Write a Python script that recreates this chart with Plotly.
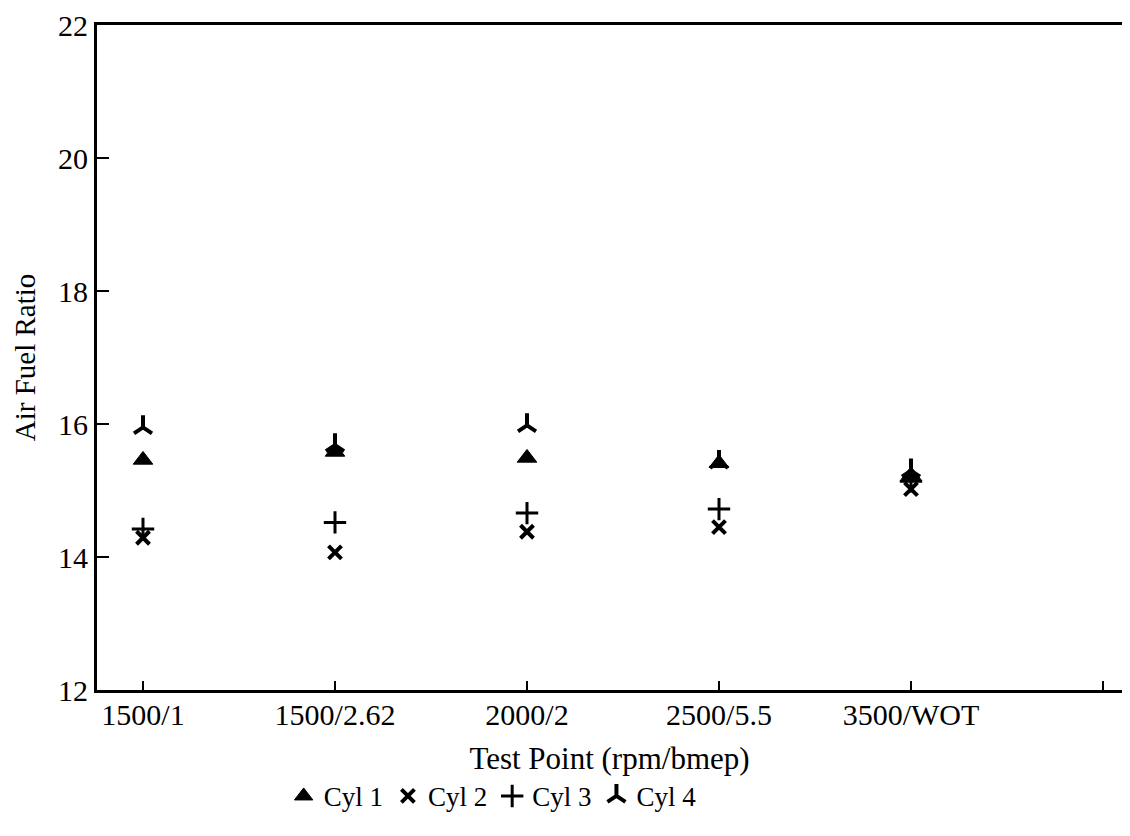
import plotly.graph_objects as go

categories = ["1500/1", "1500/2.62", "2000/2", "2500/5.5", "3500/WOT"]
tick_labels = ["1500/1", "1500/2.62", "2000/2", "2500/5.5", "3500/WOT", ""]
cyl1 = [15.46, 15.58, 15.49, 15.41, 15.23]
cyl2 = [14.29, 14.07, 14.38, 14.45, 15.02]
cyl3 = [14.42, 14.52, 14.66, 14.72, 15.14]
cyl4 = [15.95, 15.68, 15.98, 15.43, 15.30]

xpos = list(range(len(categories)))
FONT = "Liberation Serif"

fig = go.Figure()
fig.add_trace(go.Scatter(x=xpos, y=cyl1, mode="markers", name="Cyl 1",
                         marker=dict(symbol="triangle-up", size=17, color="black",
                                     line=dict(width=1, color="black"))))
fig.add_trace(go.Scatter(x=xpos, y=cyl2, mode="markers", name="Cyl 2",
                         marker=dict(symbol="x-thin", size=13, color="black",
                                     line=dict(width=4, color="black"))))
fig.add_trace(go.Scatter(x=xpos, y=cyl3, mode="markers", name="Cyl 3",
                         marker=dict(symbol="cross-thin", size=16, color="black",
                                     line=dict(width=3, color="black"))))
fig.add_trace(go.Scatter(x=xpos, y=cyl4, mode="markers", name="Cyl 4",
                         marker=dict(symbol="y-up", size=15, color="black",
                                     line=dict(width=4, color="black"))))

fig.update_layout(
    width=1114, height=820,
    margin=dict(l=89, r=0, t=17, b=138),
    paper_bgcolor="white", plot_bgcolor="white",
    font=dict(family=FONT, size=30, color="black"),
    showlegend=True,
    legend=dict(orientation="h", x=0.386, xanchor="center", y=-0.16, yanchor="middle",
                font=dict(family=FONT, size=27), tracegroupgap=0,
                bgcolor="rgba(0,0,0,0)"),
    xaxis=dict(range=[-0.2396, 5.099], tickvals=list(range(len(tick_labels))),
               ticktext=tick_labels, showgrid=False, zeroline=False,
               showline=True, linewidth=3, linecolor="black", mirror=True,
               ticks="inside", ticklen=9, tickwidth=2, tickcolor="black",
               ticklabelstandoff=-4,
               tickfont=dict(family=FONT, size=30),
               title=dict(text="Test Point (rpm/bmep)", standoff=18,
                          font=dict(family=FONT, size=31))),
    yaxis=dict(range=[12, 22], tickvals=[12, 14, 16, 18, 20, 22],
               showgrid=False, zeroline=False,
               showline=True, linewidth=3, linecolor="black", mirror=False,
               ticks="inside", ticklen=12, tickwidth=2, tickcolor="black",
               tickfont=dict(family=FONT, size=30),
               title=dict(text="Air Fuel Ratio", standoff=14,
                          font=dict(family=FONT, size=29))),
)

fig.write_html("out.html")
